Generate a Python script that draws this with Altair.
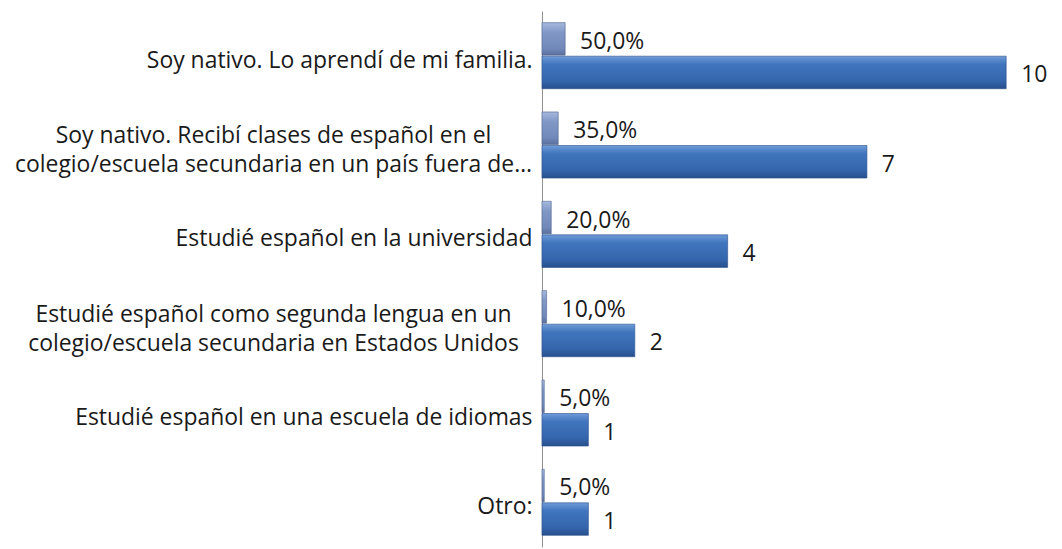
import altair as alt
import pandas as pd

categories = [
    "Soy nativo. Lo aprendí de mi familia.",
    "Soy nativo. Recibí clases de español en el\ncolegio/escuela secundaria en un país fuera de…",
    "Estudié español en la universidad",
    "Estudié español como segunda lengua en un\ncolegio/escuela secundaria en Estados Unidos",
    "Estudié español en una escuela de idiomas",
    "Otro:",
]
counts = [10, 7, 4, 2, 1, 1]
percents = [0.50, 0.35, 0.20, 0.10, 0.05, 0.05]

rows = []
for c, n, p in zip(categories, counts, percents):
    rows.append({"cat": c, "series": "pct", "value": p,
                 "label": f"{p*100:.1f}%".replace(".", ",")})
    rows.append({"cat": c, "series": "count", "value": n, "label": str(n)})
df = pd.DataFrame(rows)

FONT = "Open Sans"
FS = 23
MULTI = "indexof(datum.value, '\\n') >= 0"

y = alt.Y("cat:N", sort=categories, title=None,
          scale=alt.Scale(paddingInner=0.26, paddingOuter=0.13),
          axis=alt.Axis(labelExpr="split(datum.label, '\\n')", labelFont=FONT,
                        labelFontSize=FS, labelColor="#1a1a1a",
                        labelAlign={"condition": {"test": MULTI, "value": "center"},
                                    "value": "right"},
                        labelPadding={"condition": {"test": MULTI, "value": 270},
                                      "value": 10},
                        labelOffset={"condition": {"test": MULTI, "value": -9},
                                     "value": 5},
                        labelLineHeight=29, labelLimit=600,
                        domainColor="#8c8c8c", tickColor="#8c8c8c", tickSize=0,
                        grid=False))
yoff = alt.YOffset("series:N", sort=["pct", "count"],
                   scale=alt.Scale(domain=["pct", "count"], paddingInner=0.03))
x = alt.X("value:Q", title=None,
          scale=alt.Scale(domain=[0, 10], nice=False, zero=True),
          axis=None)

count_grad = alt.Gradient(gradient="linear", x1=0, x2=0, y1=0, y2=1,
                          stops=[alt.GradientStop(color="#6f9bd8", offset=0),
                                 alt.GradientStop(color="#4075bd", offset=0.25),
                                 alt.GradientStop(color="#3566ad", offset=0.75),
                                 alt.GradientStop(color="#284f8c", offset=1)])
pct_grad = alt.Gradient(gradient="linear", x1=0, x2=0, y1=0, y2=1,
                        stops=[alt.GradientStop(color="#a6b8dc", offset=0),
                               alt.GradientStop(color="#8198c6", offset=0.3),
                               alt.GradientStop(color="#7189b9", offset=0.8),
                               alt.GradientStop(color="#5a6f9c", offset=1)])

base = alt.Chart(df).encode(y=y, yOffset=yoff, x=x)

bars_count = base.transform_filter(alt.datum.series == "count").mark_bar(
    color=count_grad, stroke="#2a4f8a", strokeWidth=0.6)
bars_pct = base.transform_filter(alt.datum.series == "pct").mark_bar(
    color=pct_grad, stroke="#4f6590", strokeWidth=0.6)
text = base.mark_text(align="left", baseline="middle", dx=15, dy=3,
                      font=FONT, fontSize=FS, color="#1a1a1a").encode(text="label:N")

chart = alt.layer(bars_pct, bars_count, text).properties(
    width=466, height=538,
    background="#ffffff",
    autosize=alt.AutoSizeParams(type="none"),
    padding={"left": 536, "top": 2, "right": 48, "bottom": 0},
).configure_view(stroke=None)

chart.save("out.html", embed_options={"renderer": "svg", "actions": False})
